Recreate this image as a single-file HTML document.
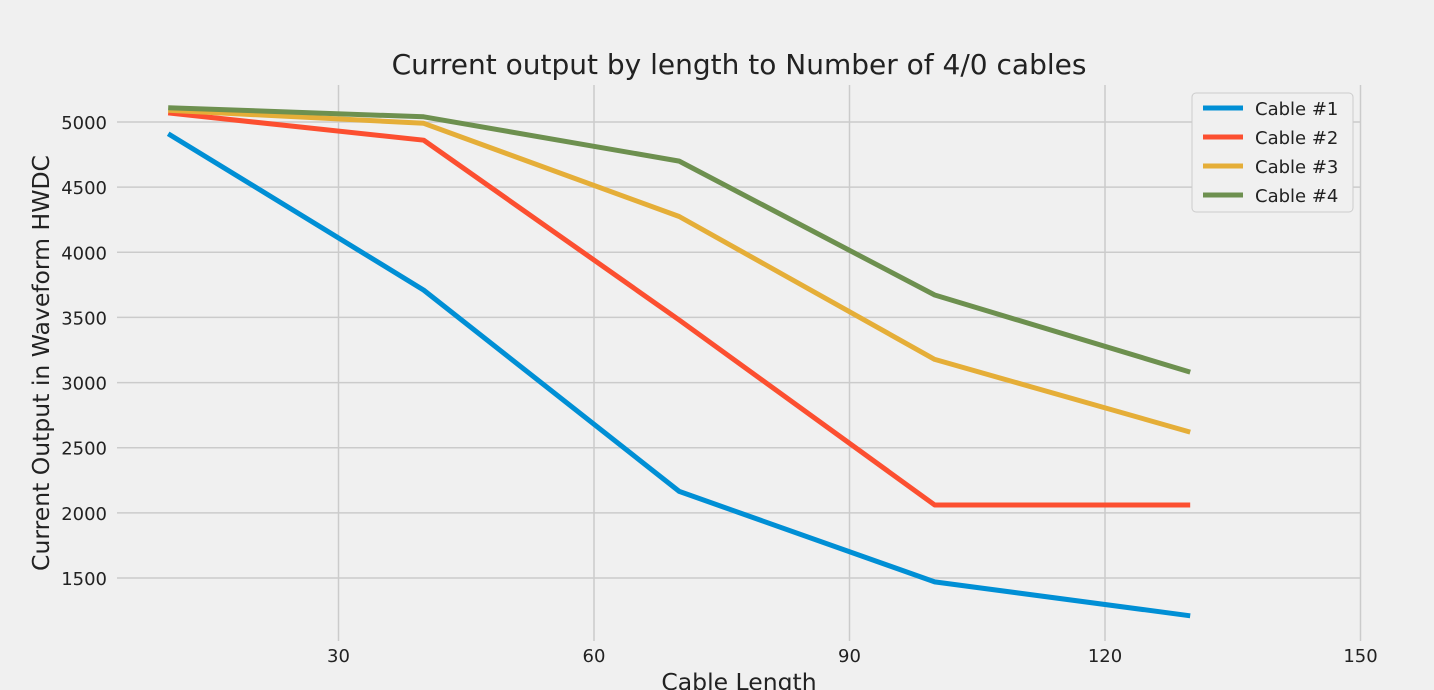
<!DOCTYPE html>
<html><head><meta charset="utf-8"><style>
html,body{margin:0;padding:0;background:#f0f0f0;}
svg{display:block;font-family:"DejaVu Sans","Liberation Sans",sans-serif;}
</style></head><body>
<svg id="chart" width="1434" height="690" viewBox="0 0 1434 690" xmlns="http://www.w3.org/2000/svg">
<rect x="0" y="0" width="1434" height="690" fill="#f0f0f0"/>
<g id="grid"></g>
<g id="series"></g>
<g id="ticks"></g>
<text x="739" y="74" text-anchor="middle" font-size="28" fill="#222">Current output by length to Number of 4/0 cables</text>
<text x="739" y="690" text-anchor="middle" font-size="23.5" fill="#222">Cable Length</text>
<text transform="translate(49,363) rotate(-90)" text-anchor="middle" font-size="23.5" fill="#222">Current Output in Waveform HWDC</text>
<g id="legend"></g>
</svg>
<script>
const lengths = [10, 40, 70, 100, 130];
const cable1 = [4910, 3710, 2165, 1470, 1210];
const cable2 = [5070, 4860, 3480, 2060, 2060];
const cable3 = [5090, 4990, 4275, 3178, 2620];
const cable4 = [5110, 5040, 4700, 3672, 3080];
const seriesNames = ["Cable #1", "Cable #2", "Cable #3", "Cable #4"];
const xTicks = [30, 60, 90, 120, 150];
const yTicks = [1500, 2000, 2500, 3000, 3500, 4000, 4500, 5000];

const NS = "http://www.w3.org/2000/svg";
const colors = ["#008fd5", "#fc4f30", "#e5ae38", "#6d904f"];
const plotL = 117, plotR = 1360, plotT = 85, plotB = 641;
function xs(v){ return 83 + v * (255.5/30); }
function ys(v){ return 578 - (v - 1500) * (456/3500); }
function mk(tag, attrs, parent){
  const e = document.createElementNS(NS, tag);
  for (const k in attrs) e.setAttribute(k, attrs[k]);
  parent.appendChild(e); return e;
}
const grid = document.getElementById('grid');
const ticks = document.getElementById('ticks');
xTicks.forEach(t => {
  const l = mk('line', {x1: xs(t), x2: xs(t), y1: plotT, y2: plotB, stroke: '#cbcbcb', 'stroke-width': 1.5}, grid);
  
  
  const tx = mk('text', {x: xs(t), y: 662, 'text-anchor': 'middle', 'font-size': 18, fill: '#222'}, ticks);
  tx.textContent = t;
  
  
});
yTicks.forEach(t => {
  const l = mk('line', {x1: plotL, x2: plotR, y1: ys(t), y2: ys(t), stroke: '#cbcbcb', 'stroke-width': 1.5}, grid);
  
  
  const tx = mk('text', {x: 107, y: ys(t) + 7, 'text-anchor': 'end', 'font-size': 18, fill: '#222'}, ticks);
  tx.textContent = t;
  
  
});
const allSeries = [cable1, cable2, cable3, cable4];
const sg = document.getElementById('series');
allSeries.forEach((s, i) => {
  const pts = s.map((v, j) => xs(lengths[j]).toFixed(1) + ',' + ys(v).toFixed(1)).join(' ');
  const p = mk('polyline', {points: pts, fill: 'none', stroke: colors[i], 'stroke-width': 5, 'stroke-linejoin': 'round'}, sg);
  
  
});
const lg = document.getElementById('legend');
const box = mk('rect', {x: 1192, y: 93, width: 161, height: 119, rx: 4, fill: '#f0f0f0', stroke: '#cccccc', 'stroke-width': 1}, lg);


seriesNames.forEach((n, i) => {
  const y = 108 + i * 29;
  const l = mk('line', {x1: 1203, x2: 1243, y1: y, y2: y, stroke: colors[i], 'stroke-width': 5}, lg);
  
  
  const t = mk('text', {x: 1255, y: y + 7, 'font-size': 18, fill: '#222'}, lg);
  t.textContent = n;
  
  
});
</script>
</body></html>
